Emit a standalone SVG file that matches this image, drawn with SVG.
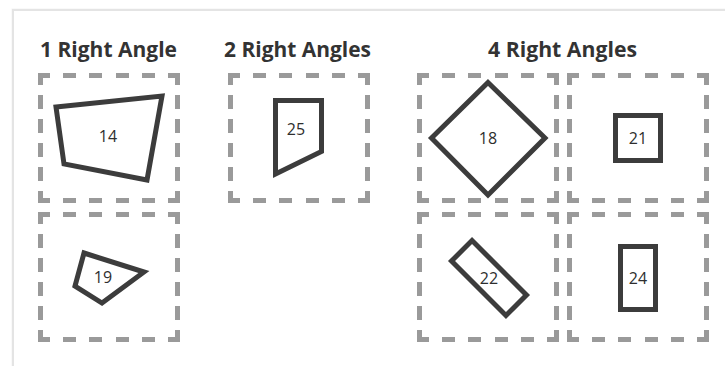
<svg xmlns="http://www.w3.org/2000/svg" width="725" height="366" viewBox="0 0 725 366">
  <defs>
    <style>
      .bg { fill: #ffffff; }
      .card { fill: #ffffff; stroke: #e4e4e4; stroke-width: 2; }
      .h { fill: none; stroke: #9a9a9a; stroke-width: 5; stroke-dasharray: 12 13 13 13 13 14 13 13 13 13 12; }
      .v { fill: none; stroke: #9a9a9a; stroke-width: 5; stroke-dasharray: 12 10 14 10 14 10 14 10 14 10 12; }
      .shape { fill: none; stroke: #3c3c3c; stroke-width: 5; stroke-linejoin: miter; }
      .title { font-family: "Open Sans", "Noto Sans", "Liberation Sans", sans-serif; font-weight: 700; font-size: 21px; fill: #333333; }
      .num { font-family: "Open Sans", "Noto Sans", "Liberation Sans", sans-serif; font-size: 16px; fill: #2e2e2e; text-anchor: middle; }
    </style>
    <g id="box">
      <path class="h" d="M0 2.5 H142"/>
      <path class="h" d="M0 127.5 H142"/>
      <path class="v" d="M2.5 0 V130"/>
      <path class="v" d="M139.5 0 V130"/>
    </g>
  </defs>
  <rect class="bg" x="0" y="0" width="725" height="366"/>
  <rect x="14" y="11" width="730" height="380" fill="none" stroke="#f3f3f3" stroke-width="5"/>
  <rect class="card" x="13" y="10" width="730" height="380"/>

  <text class="title" x="40" y="57" textLength="137" lengthAdjust="spacingAndGlyphs">1 Right Angle</text>
  <text class="title" x="224" y="57" textLength="147" lengthAdjust="spacingAndGlyphs">2 Right Angles</text>
  <text class="title" x="488" y="57" textLength="149" lengthAdjust="spacingAndGlyphs">4 Right Angles</text>

  <g id="node-14">
    <use href="#box" x="38" y="73"/>
    <polygon class="shape" points="56,107 162,96 147,180 64,164"/>
    <text class="num" x="108" y="142">14</text>
  </g>
  <g id="node-19">
    <use href="#box" x="38" y="212"/>
    <polygon class="shape" points="84,253 144,272 102,303 75,286"/>
    <text class="num" x="103" y="283">19</text>
  </g>
  <g id="node-25">
    <use href="#box" x="228" y="73"/>
    <polygon class="shape" points="275.5,100.5 321.5,100.5 321.5,151.5 275.5,174"/>
    <text class="num" x="296" y="135">25</text>
  </g>
  <g id="node-18">
    <use href="#box" x="417" y="73"/>
    <polygon class="shape" points="488,82.5 545,138 488,195 431.5,138"/>
    <text class="num" x="488" y="144">18</text>
  </g>
  <g id="node-21">
    <use href="#box" x="567" y="73"/>
    <rect class="shape" x="615.5" y="115.5" width="45" height="45"/>
    <text class="num" x="638" y="144">21</text>
  </g>
  <g id="node-22">
    <use href="#box" x="417" y="212"/>
    <rect class="shape" x="-38.5" y="-14.5" width="77" height="29" transform="translate(489 278) rotate(45)"/>
    <text class="num" x="489" y="284">22</text>
  </g>
  <g id="node-24">
    <use href="#box" x="567" y="212"/>
    <rect class="shape" x="620.5" y="246.5" width="35" height="63"/>
    <text class="num" x="638" y="284">24</text>
  </g>
  <g id="connectors"></g>
</svg>
